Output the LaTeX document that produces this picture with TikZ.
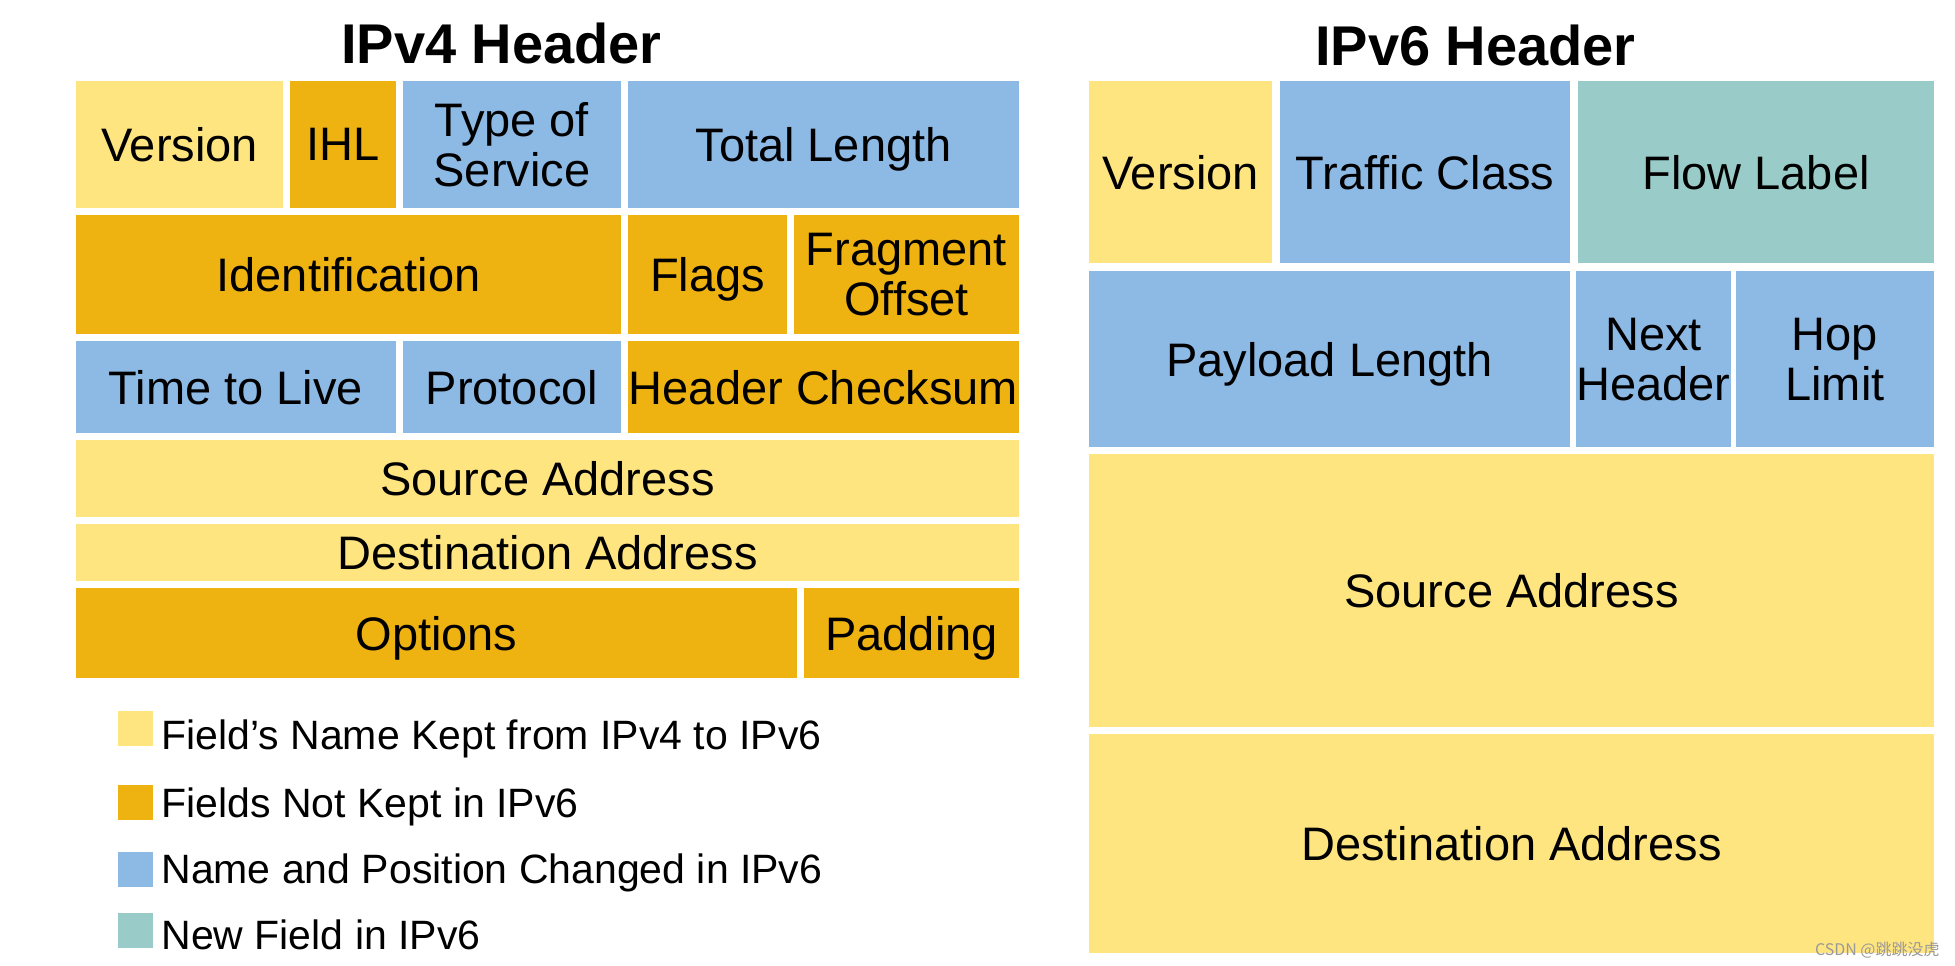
\documentclass[tikz,border=0pt]{standalone}
\usepackage{fontspec}
\setmainfont{Liberation Sans}
\newfontfamily\cjk{Noto Sans CJK SC}
\usetikzlibrary{positioning}

\definecolor{kept}{RGB}{255,229,128}
\definecolor{gone}{RGB}{238,178,17}
\definecolor{moved}{RGB}{141,185,229}
\definecolor{newf}{RGB}{153,204,200}

\begin{document}
\begin{tikzpicture}[x=0.5pt,y=-0.5pt,font=\fontsize{23.5}{25}\selectfont,
  fld/.style={inner sep=0pt,fill=#1,align=center,text depth=0pt},fld/.default=kept,
  wd/.style={minimum width=#1*0.5pt},ht/.style={minimum height=#1*0.5pt},
  key/.style={inner sep=0pt,minimum size=17.5pt,fill=#1},
  legtxt/.style={inner sep=0pt,anchor=base west,font=\fontsize{20.5}{22}\selectfont},
  ttl/.style={inner sep=0pt,anchor=base,font=\bfseries\fontsize{28}{30}\selectfont}]
\fill[white] (0,0) rectangle (1955,965);
\useasboundingbox (0,0) rectangle (1955,965);
% titles
\node[ttl] (t4) at (501.5,63) {IPv4 Header};
\node[ttl] (t6) at (1475.5,65) {IPv6 Header};
% IPv4 header
\node[fld=kept,wd=207,ht=127] (v4ver) at (179.5,144.5) {Version};
\node[fld=gone,wd=106,ht=127] (v4ihl) at (343,144.5) {IHL};
\node[fld=moved,wd=218,ht=127] (v4tos) at (512,144.5) {Type of\\Service};
\node[fld=moved,wd=391,ht=127] (v4len) at (823.5,144.5) {Total Length};
\node[fld=gone,wd=545,ht=119] (v4id) at (348.5,274.5) {Identification};
\node[fld=gone,wd=159,ht=119] (v4flags) at (707.5,274.5) {Flags};
\node[fld=gone,wd=225,ht=119] (v4frag) at (906.5,274.5) {Fragment\\Offset};
\node[fld=moved,wd=320,ht=92] (v4ttl) at (236,387) {Time to Live};
\node[fld=moved,wd=218,ht=92] (v4proto) at (512,387) {Protocol};
\node[fld=gone,wd=391,ht=92] (v4csum) at (823.5,387) {Header Checksum};
\node[fld=kept,wd=943,ht=77] (v4src) at (547.5,478.5) {Source Address};
\node[fld=kept,wd=943,ht=57] (v4dst) at (547.5,552.5) {Destination Address};
\node[fld=gone,wd=721,ht=90] (v4opt) at (436.5,633) {Options};
\node[fld=gone,wd=215,ht=90] (v4pad) at (911.5,633) {Padding};
% IPv6 header
\node[fld=kept,wd=183,ht=182] (v6ver) at (1180.5,172) {Version};
\node[fld=moved,wd=290,ht=182] (v6tc) at (1425,172) {Traffic Class};
\node[fld=newf,wd=356,ht=182] (v6flow) at (1756,172) {Flow Label};
\node[fld=moved,wd=481,ht=176] (v6plen) at (1329.5,359) {Payload Length};
\node[fld=moved,wd=151,ht=176] (v6next) at (1653.5,359) {Next\\Header};
\node[fld=moved,wd=198,ht=176] (v6hop) at (1835,359) {Hop\\Limit};
\node[fld=kept,wd=845,ht=273] (v6src) at (1511.5,590.5) {Source Address};
\node[fld=kept,wd=845,ht=219] (v6dst) at (1511.5,843.5) {Destination Address};
% legend
\node[key=kept] (keykept) at (135.5,728.5) {};
\node[key=gone] (keygone) at (135.5,802.5) {};
\node[key=moved] (keymoved) at (135.5,869) {};
\node[key=newf] (keynew) at (135.5,930.5) {};
\node[legtxt] (txtkept) at (161,749) {Field's Name Kept from IPv4 to IPv6};
\node[legtxt] (txtgone) at (161,817) {Fields Not Kept in IPv6};
\node[legtxt] (txtmoved) at (161,883) {Name and Position Changed in IPv6};
\node[legtxt] (txtnew) at (161,949) {New Field in IPv6};
\node[inner sep=0pt,anchor=base east,text=black!40,font=\cjk\fontsize{8}{9}\selectfont] (mark) at (1940,955) {CSDN @跳跳没虎};
\end{tikzpicture}
\end{document}
